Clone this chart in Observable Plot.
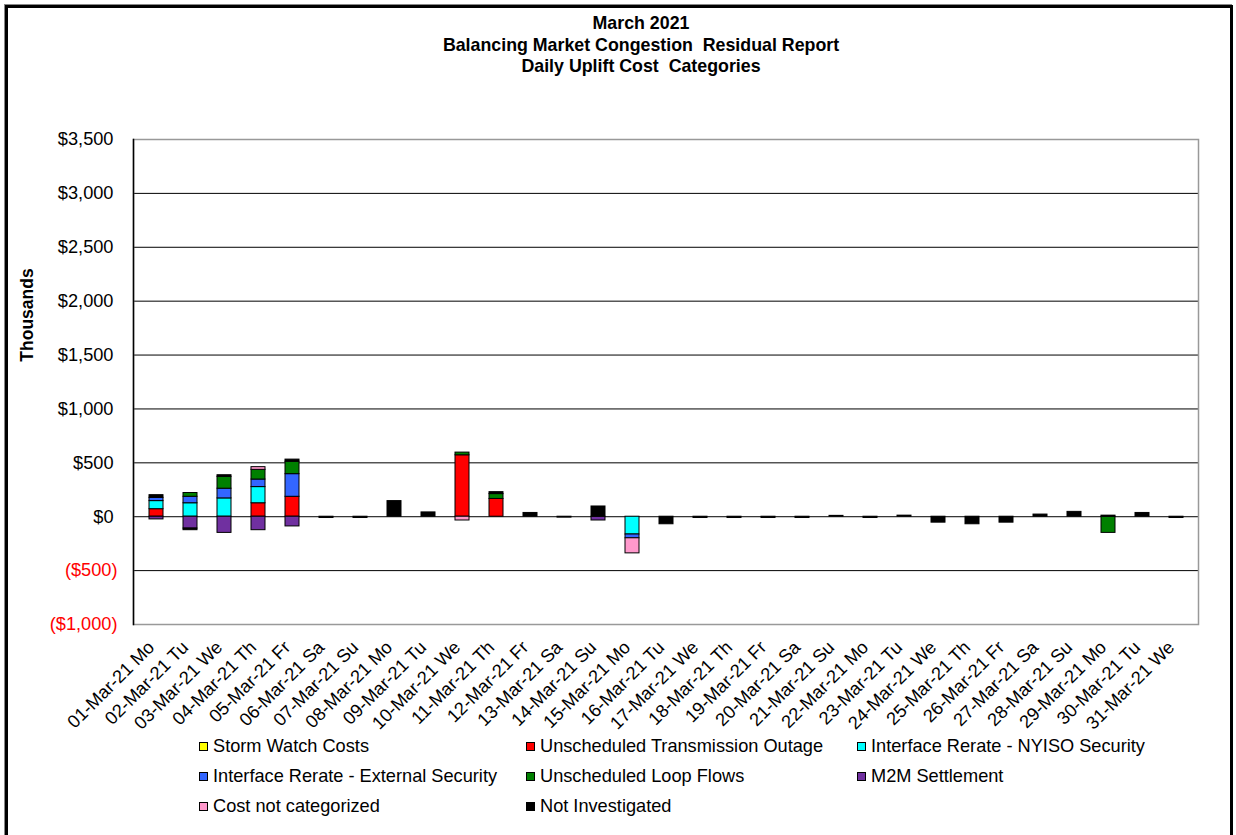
<!DOCTYPE html>
<html>
<head>
<meta charset="utf-8">
<script src="https://cdn.jsdelivr.net/npm/d3@7"></script>
<script src="https://cdn.jsdelivr.net/npm/@observablehq/plot@0.6"></script>
<style>
  html, body { margin: 0; padding: 0; background: #fff; }
  #wrap { position: relative; width: 1236px; height: 835px; overflow: hidden; font-family: "Liberation Sans", Arial, sans-serif; background: #fff; }
  #frame { position: absolute; left: 5px; top: 5px; width: 1222px; height: 900px; border: 3px solid #000; box-shadow: -1px -1px 0 #888; }
  #chart { position: absolute; left: 0; top: 0; }
  #title { position: absolute; left: 0; top: 13px; width: 1282px; text-align: center; font-weight: bold; font-size: 17.8px; line-height: 21.5px; color: #000; }
  .leg { position: absolute; font-size: 18.2px; line-height: 20px; white-space: nowrap; color: #000; }
  .leg .sw { display: inline-block; width: 7px; height: 7px; border: 1px solid #000; margin-right: 5px; vertical-align: 1px; }
</style>
</head>
<body>
<div id="wrap">
  <div id="frame"></div>
  <div id="chart"></div>
  <div id="title">March 2021<br>Balancing Market Congestion&nbsp; Residual Report<br>Daily Uplift Cost&nbsp; Categories</div>
  <div id="legend"></div>
</div>
<script>
// ---- data ----
const days = ["01-Mar-21 Mo","02-Mar-21 Tu","03-Mar-21 We","04-Mar-21 Th","05-Mar-21 Fr","06-Mar-21 Sa","07-Mar-21 Su","08-Mar-21 Mo","09-Mar-21 Tu","10-Mar-21 We","11-Mar-21 Th","12-Mar-21 Fr","13-Mar-21 Sa","14-Mar-21 Su","15-Mar-21 Mo","16-Mar-21 Tu","17-Mar-21 We","18-Mar-21 Th","19-Mar-21 Fr","20-Mar-21 Sa","21-Mar-21 Su","22-Mar-21 Mo","23-Mar-21 Tu","24-Mar-21 We","25-Mar-21 Th","26-Mar-21 Fr","27-Mar-21 Sa","28-Mar-21 Su","29-Mar-21 Mo","30-Mar-21 Tu","31-Mar-21 We"];

const seriesNames = ["Storm Watch Costs","Unscheduled Transmission Outage","Interface Rerate - NYISO Security","Interface Rerate - External Security","Unscheduled Loop Flows","M2M Settlement","Cost not categorized","Not Investigated"];
const seriesColors = ["#FFFF00","#FF0000","#00FFFF","#3366FF","#008000","#7030A0","#FF99CC","#000000"];

//                       1     2     3     4     5    6    7    8    9   10   11   12  13   14    15   16   17   18   19   20  21   22  23   24   25   26  27  28    29  30   31
const stormWatch     = [ 0,    0,    0,    0,    0,   0,   0,   0,   0,   0,   0,   0,  0,   0,    0,   0,   0,   0,   0,   0,  0,   0,  0,   0,   0,   0,  0,  0,    0,  0,   0];
const transOutage    = [70,    0,    0,  125,  185,   0,   0,   0,   0, 570, 165,   0,  0,   0,    0,   0,   0,   0,   0,   0,  0,   0,  0,   0,   0,   0,  0,  0,    0,  0,   0];
const nyisoSecurity  = [75,  125,  170,  150,    0,   0,   0,   0,   0,   0,   0,   0,  0,   0, -165,   0,   0,   0,   0,   0,  0,   0,  0,   0,   0,   0,  0,  0,    0,  0,   0];
const extSecurity    = [30,   60,   90,   70,  210,   0,   0,   0,   0,   0,   0,   0,  0,   0,  -35,   0,   0,   0,   0,   0,  0,   0,  0,   0,   0,   0,  0,  0,    0,  0,   0];
const loopFlows      = [ 0,   35,  110,   90,  115,   0,   0,   0,   0,  25,  45,   0,  0,   0,    0,   0,   0,   0,   0,   0,  0,   0,  0,   0,   0,   0,  0,  0, -150,  0,   0];
const m2mSettlement  = [-25, -110, -150, -125, -90,   0,   0,   0,   0,   0,   0,   0,  0, -35,    0,   0,   0,   0,   0,   0,  0,   0,  0,   0,   0,   0,  0,  0,    0,  0,   0];
const notCategorized = [ 0,    0,    0,   25,    0,   0,   0,   0,   0, -35,   0,   0,  0,   0, -140,   0,   0,   0,   0,   0,  0,   0,  0,   0,   0,   0,  0,  0,    0,  0,   0];
const notInvestigated= [25,  -15,   15,    0,   20, -12, -12, 145,  40,   0,  18,  35, -8,  95,    0, -70, -12, -12, -12, -12,  8, -12, 10, -55, -70, -55, 20, 45,   10, 35, -12];

const yTicks = [-1000, -500, 0, 500, 1000, 1500, 2000, 2500, 3000, 3500];

// ---- long table for the stack ----
const seriesValues = [stormWatch, transOutage, nyisoSecurity, extSecurity, loopFlows, m2mSettlement, notCategorized, notInvestigated];
const rows = [];
seriesNames.forEach((s, i) => {
  days.forEach((d, j) => {
    const v = seriesValues[i][j];
    if (v !== 0) rows.push({day: d, series: s, value: v});
  });
});

const fmt = d => d < 0 ? `($${d3.format(",")(-d)})` : `$${d3.format(",")(d)}`;
const FONT = 18.2;

const chart = Plot.plot({
  width: 1236,
  height: 739,
  marginLeft: 133,
  marginRight: 38,
  marginTop: 139,
  marginBottom: 115,
  style: {fontFamily: "'Liberation Sans', Arial, sans-serif", background: "transparent", overflow: "visible"},
  x: {type: "band", domain: days, paddingInner: 0.59, paddingOuter: 0.295, axis: null},
  y: {domain: [-1000, 3500], axis: null},
  color: {domain: seriesNames, range: seriesColors},
  marks: [
    Plot.ruleY(yTicks.filter(d => d > -1000 && d < 3500), {stroke: "#000", strokeWidth: 1}),
    Plot.frame({stroke: "#999", strokeWidth: 1.5}),
    Plot.frame({anchor: "left", stroke: "#000", strokeWidth: 1.5}),
    Plot.barY(rows, {x: "day", y: "value", fill: "series", z: "series", order: seriesNames, stroke: "#000", strokeWidth: 1}),
    Plot.text(yTicks.filter(d => d >= 0), {y: d => d, text: fmt, frameAnchor: "left", textAnchor: "end", dx: -20, fill: "#000", fontSize: FONT}),
    Plot.text(yTicks.filter(d => d < 0), {y: d => d, text: fmt, frameAnchor: "left", textAnchor: "end", dx: -16, fill: "#FF0000", fontSize: FONT}),
    Plot.text(days, {x: d => d, text: d => d, frameAnchor: "bottom", rotate: -45, textAnchor: "end", dx: -1, dy: 24, fill: "#000", fontSize: FONT}),
    Plot.text(["Thousands"], {text: d => d, frameAnchor: "left", textAnchor: "middle", rotate: -90, dx: -106, dy: -67, fontWeight: "bold", fill: "#000", fontSize: 17.5})
  ]
});
document.getElementById("chart").appendChild(chart);

// ---- legend ----
const legendPos = [
  [0, 199, 746], [1, 526, 746], [2, 857, 746],
  [3, 199, 776], [4, 526, 776], [5, 857, 776],
  [6, 199, 806], [7, 526, 806]
];
const legend = document.getElementById("legend");
legendPos.forEach(([i, x, y]) => {
  const div = document.createElement("div");
  div.className = "leg";
  div.style.left = x + "px";
  div.style.top = (y - 10) + "px";
  div.innerHTML = `<span class="sw" style="background:${seriesColors[i]}"></span>${seriesNames[i]}`;
  legend.appendChild(div);
});
</script>
</body>
</html>
